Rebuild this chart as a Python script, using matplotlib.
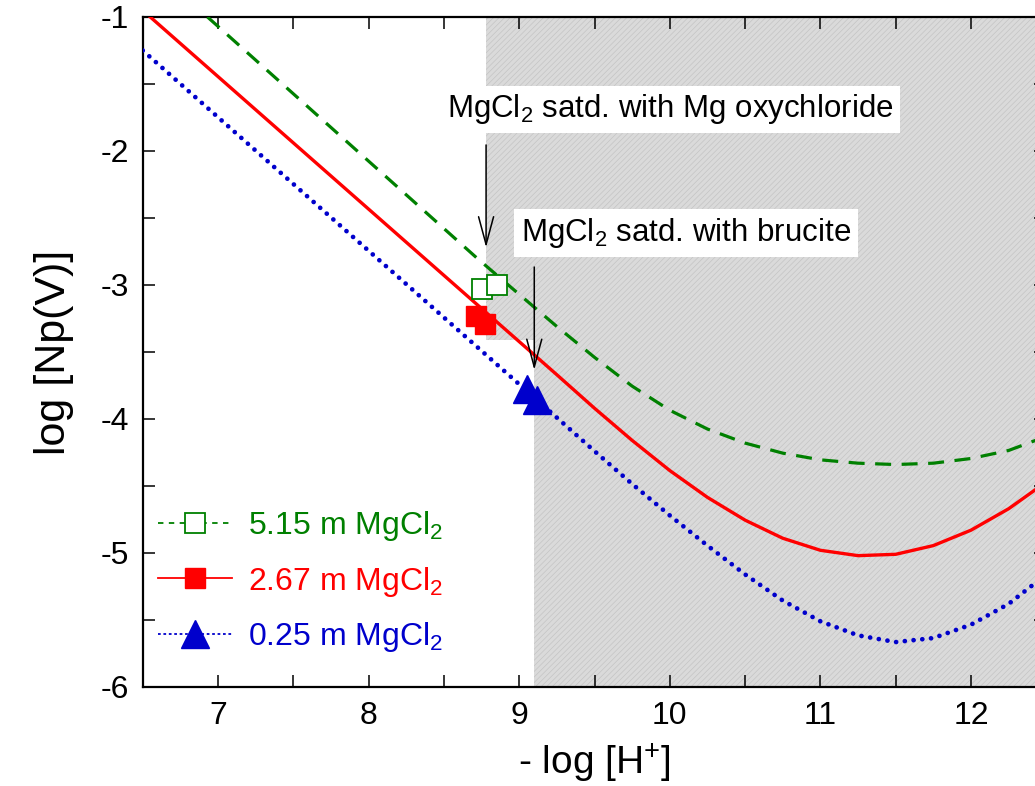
import numpy as np
import matplotlib
matplotlib.use('Agg')
import matplotlib.pyplot as plt
from matplotlib.lines import Line2D
from matplotlib import font_manager

FONT = 'Liberation Sans Narrow'
if FONT not in {f.name for f in font_manager.fontManager.ttflist}:
    FONT = 'Liberation Sans'

plt.rcParams.update({
    'font.family': [FONT, 'DejaVu Sans'],
    'mathtext.fontset': 'custom',
    'mathtext.rm': FONT, 'mathtext.it': FONT, 'mathtext.bf': FONT,
    'hatch.color': '#c4c4c4', 'hatch.linewidth': 0.5,
})

# curves: -log[H+] vs log[Np(V)]
x_515 = [6.93, 8.72, 9.00, 9.25, 9.50, 9.75, 10.00, 10.25, 10.50, 10.75, 11.00, 11.25, 11.50,
         11.75, 12.00, 12.25, 12.50]
y_515 = [-1.00, -2.80, -3.07, -3.31, -3.54, -3.755, -3.935, -4.075, -4.18, -4.255, -4.305, -4.33, -4.34,
         -4.33, -4.295, -4.235, -4.13]

x_267 = [6.55, 9.25, 9.50, 9.75, 10.00, 10.25, 10.50, 10.75, 11.00, 11.25, 11.50,
         11.75, 12.00, 12.25, 12.50]
y_267 = [-1.00, -3.67, -3.92, -4.16, -4.385, -4.585, -4.755, -4.89, -4.98, -5.02, -5.01,
         -4.945, -4.83, -4.67, -4.47]

x_025 = [6.50, 9.25, 9.50, 9.75, 10.00, 10.25, 10.50, 10.75, 11.00, 11.25, 11.50,
         11.75, 12.00, 12.25, 12.50]
y_025 = [-1.25, -3.99, -4.24, -4.485, -4.72, -4.945, -5.16, -5.355, -5.51, -5.615, -5.665,
         -5.635, -5.535, -5.38, -5.16]

# experimental points
px_515 = [8.75, 8.85]; py_515 = [-3.03, -3.00]
px_267 = [8.71, 8.77]; py_267 = [-3.23, -3.29]
px_025 = [9.05, 9.12]; py_025 = [-3.78, -3.86]

labels = ['5.15 m MgCl$\\mathregular{_2}$', '2.67 m MgCl$\\mathregular{_2}$', '0.25 m MgCl$\\mathregular{_2}$']
G, R, B = '#008000', '#ff0000', '#0000cc'

# shaded regions (oxychloride / brucite)
oxy_x, oxy_y = 8.78, -3.41
bru_x = 9.10

fig = plt.figure(figsize=(10.35, 7.86), dpi=100)
ax = fig.add_axes([0.1379, 0.126, 0.873, 0.8524])
ax.set_xlim(6.5, 12.5); ax.set_ylim(-6, -1)

shade = dict(facecolor='#dadada', edgecolor='#c4c4c4', hatch='//////', lw=0, zorder=0)
ax.fill_between([oxy_x, 12.5], oxy_y, -1, **shade)
ax.fill_between([bru_x, 12.5], -6, -1, **shade)

ax.plot(x_515, y_515, color=G, lw=2.3, ls=(0, (5, 3.3)), zorder=3)
ax.plot(x_267, y_267, color=R, lw=2.4, ls='-', zorder=3)
ax.plot(x_025, y_025, color=B, lw=3.4, ls=(0, (0.01, 1.85)), dash_capstyle='round', zorder=3)

ax.plot(px_515, py_515, 's', ms=14, mfc='white', mec=G, mew=1.3, ls='none', zorder=5)
ax.plot(px_267, py_267, 's', ms=14, color=R, ls='none', zorder=5)
ax.plot(px_025, py_025, '^', ms=20, color=B, ls='none', zorder=5)

# annotations
ax.text(8.52, -1.69, 'MgCl$\\mathregular{_2}$ satd. with Mg oxychloride', fontsize=22.5, va='center', ha='left',
        bbox=dict(facecolor='white', edgecolor='none', pad=5), zorder=6)
ax.text(9.01, -2.61, 'MgCl$\\mathregular{_2}$ satd. with brucite', fontsize=22.5, va='center', ha='left',
        bbox=dict(facecolor='white', edgecolor='none', pad=5), zorder=6)
arr = dict(arrowstyle='->,head_length=1.0,head_width=0.27', mutation_scale=20, lw=1.1, color='black',
           shrinkA=0, shrinkB=0)
ax.annotate('', xy=(oxy_x, -2.72), xytext=(oxy_x, -1.955), arrowprops=arr, zorder=7)
ax.annotate('', xy=(bru_x, -3.634), xytext=(bru_x, -2.866), arrowprops=arr, zorder=7)

handles = [
    Line2D([], [], color=G, lw=1.3, ls=(0, (3, 3)), marker='s', ms=14, mfc='white', mec=G, mew=1.3),
    Line2D([], [], color=R, lw=1.3, ls='-', marker='s', ms=14),
    Line2D([], [], color=B, lw=1.3, ls=(0, (1.5, 1.5)), marker='^', ms=20),
]
leg = ax.legend(handles, labels, loc='lower left', bbox_to_anchor=(-0.004, 0.02), frameon=False,
                fontsize=23, handlelength=2.3, handletextpad=0.5, labelspacing=0.68, borderaxespad=0.2)
for t, c in zip(leg.get_texts(), [G, R, B]):
    t.set_color(c)

ax.set_xticks(np.arange(7, 13, 1))
ax.set_xticks(np.arange(6.5, 12.6, 0.5), minor=True)
ax.set_yticks(np.arange(-6, -0.9, 1))
ax.set_yticks(np.arange(-6, -0.9, 0.5), minor=True)
ax.set_yticklabels(['-6', '-5', '-4', '-3', '-2', '-1'])
ax.tick_params(which='both', direction='in', top=True, right=True, length=8.5, width=1.1,
               labelsize=23, pad=10)
for s in ax.spines.values():
    s.set_linewidth(1.6)

ax.set_xlabel('- log [H$^\\mathregular{+}$]', fontsize=28, labelpad=8)
ax.set_ylabel('log [Np(V)]', fontsize=31, labelpad=19)

fig.savefig('out.png', dpi=100)
